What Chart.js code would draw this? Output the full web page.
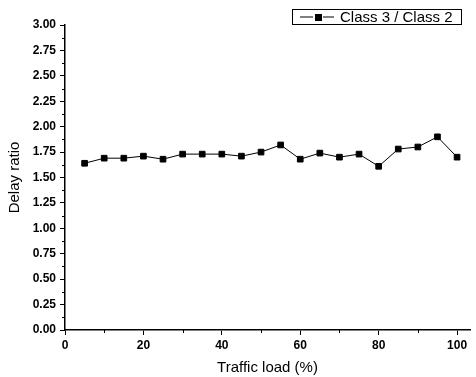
<!DOCTYPE html>
<html>
<head>
<meta charset="utf-8">
<script src="https://cdn.jsdelivr.net/npm/chart.js@4/dist/chart.umd.min.js"></script>
<style>
html,body{margin:0;padding:0;background:#fff;}
#wrap{width:476px;height:377px;position:relative;}
</style>
</head>
<body>
<div id="wrap"><canvas id="c" width="476" height="377"></canvas></div>
<script>
const trafficLoad = [5,10,15,20,25,30,35,40,45,50,55,60,65,70,75,80,85,90,95,100];
const delayRatio = [1.64,1.69,1.69,1.71,1.68,1.73,1.73,1.73,1.71,1.75,1.82,1.68,1.74,1.70,1.73,1.61,1.78,1.80,1.90,1.70];
const seriesName = 'Class 3 / Class 2';
const xMajorTicks = [0,20,40,60,80,100];
const xMinorTicks = [10,30,50,70,90];
const yMajorTicks = [0,0.25,0.5,0.75,1,1.25,1.5,1.75,2,2.25,2.5,2.75,3];
const yMinorTicks = [0.125,0.375,0.625,0.875,1.125,1.375,1.625,1.875,2.125,2.375,2.625,2.875];
const xTitle = 'Traffic load (%)';
const yTitle = 'Delay ratio';

const FONT = '"Liberation Sans", Arial, sans-serif';

const minorTicksPlugin = {
  id: 'minorTicks',
  afterDraw(chart) {
    const ctx = chart.ctx;
    const xs = chart.scales.x, ys = chart.scales.y;
    ctx.save();
    ctx.strokeStyle = '#000';
    ctx.lineWidth = 1;
    ctx.beginPath();
    xMinorTicks.forEach(v => {
      const px = Math.round(xs.getPixelForValue(v)) + 0.5;
      ctx.moveTo(px, ys.bottom);
      ctx.lineTo(px, ys.bottom + 3);
    });
    yMinorTicks.forEach(v => {
      const py = Math.round(ys.getPixelForValue(v)) + 0.5;
      ctx.moveTo(xs.left, py);
      ctx.lineTo(xs.left - 3, py);
    });
    ctx.stroke();
    ctx.restore();
  }
};

const legendPlugin = {
  id: 'customLegend',
  afterDraw(chart) {
    const ctx = chart.ctx;
    ctx.save();
    const bx = 292, by = 9, bw = 169, bh = 15;
    ctx.strokeStyle = '#000';
    ctx.lineWidth = 1;
    ctx.strokeRect(bx + 0.5, by + 0.5, bw, bh);
    const cy = by + bh / 2 + 0.5;
    ctx.beginPath();
    ctx.moveTo(300, cy); ctx.lineTo(313, cy);
    ctx.moveTo(323, cy); ctx.lineTo(334, cy);
    ctx.stroke();
    ctx.fillStyle = '#000';
    ctx.fillRect(315, cy - 3, 7, 7);
    ctx.font = '15px ' + FONT;
    ctx.textBaseline = 'middle';
    ctx.textAlign = 'left';
    ctx.fillText(seriesName, 340, cy + 0.5);
    ctx.restore();
  }
};

new Chart(document.getElementById('c'), {
  type: 'line',
  data: {
    labels: trafficLoad,
    datasets: [{
      label: seriesName,
      data: trafficLoad.map((x, i) => ({x: x, y: delayRatio[i]})),
      borderColor: '#000',
      backgroundColor: '#000',
      borderWidth: 1,
      pointStyle: 'rect',
      pointRadius: 4,
      pointBorderWidth: 1,
      pointBackgroundColor: '#000',
      pointBorderColor: '#000',
      tension: 0,
      fill: false
    }]
  },
  options: {
    responsive: false,
    animation: false,
    devicePixelRatio: 1,
    layout: { padding: { top: 25, right: 6, left: 0, bottom: 0 } },
    plugins: { legend: { display: false }, tooltip: { enabled: false } },
    scales: {
      x: {
        type: 'linear',
        min: 0,
        max: 103.3,
        afterBuildTicks: s => { s.ticks = xMajorTicks.map(v => ({value: v})); },
        afterFit: s => { s.height = 47; },
        grid: { display: true, drawOnChartArea: false, drawTicks: true, tickLength: 5, tickColor: '#000', tickWidth: 1 },
        border: { display: true, color: '#000', width: 1.5 },
        ticks: { color: '#000', font: { family: FONT, size: 12, weight: 'bold' }, padding: 3, maxRotation: 0, autoSkip: false },
        title: { display: true, text: xTitle, color: '#000', font: { family: FONT, size: 15 }, padding: { top: 0, bottom: 0 } }
      },
      y: {
        type: 'linear',
        min: 0,
        max: 3,
        afterBuildTicks: s => { s.ticks = yMajorTicks.map(v => ({value: v})); },
        afterFit: s => { s.width = 65; },
        grid: { display: true, drawOnChartArea: false, drawTicks: true, tickLength: 5, tickColor: '#000', tickWidth: 1 },
        border: { display: true, color: '#000', width: 1.5 },
        ticks: { color: '#000', font: { family: FONT, size: 12, weight: 'bold' }, padding: 4, autoSkip: false, callback: v => Number(v).toFixed(2) },
        title: { display: true, text: yTitle, color: '#000', font: { family: FONT, size: 15 }, padding: { top: 6, bottom: 0 } }
      }
    }
  },
  plugins: [minorTicksPlugin, legendPlugin]
});
</script>
</body>
</html>
